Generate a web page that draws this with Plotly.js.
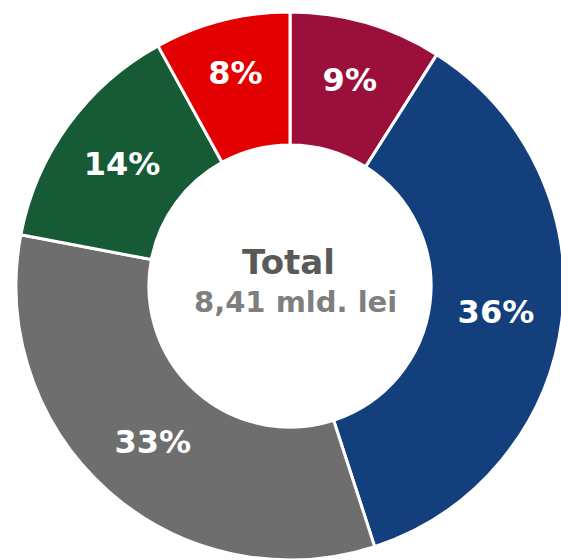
<!DOCTYPE html>
<html>
<head>
<meta charset="utf-8">
<script src="https://cdn.plot.ly/plotly-3.0.1.min.js"></script>
<style>
html,body{margin:0;padding:0;overflow:hidden;background:#fff;}
#chart{width:580px;height:560px;}
</style>
</head>
<body>
<div id="chart"></div>
<script>
const categories = ["A", "B", "C", "D", "E"];
const values = [9, 36, 33, 14, 8];
const textLabels = ["9%", "36%", "33%", "14%", "8%"];
const colors = ["#9B0F3B", "#13407D", "#6E6E6E", "#175B36", "#E30000"];
const centerTitle = "Total";
const centerSub = "8,41 mld. lei";

const W = 580, H = 560;
const trace = {
  type: "pie",
  labels: categories,
  values: values,
  text: textLabels,
  textinfo: "text",
  textposition: "inside",
  insidetextorientation: "horizontal",
  sort: false,
  direction: "clockwise",
  rotation: 0,
  hole: 0.515,
  marker: {colors: colors, line: {color: "#ffffff", width: 3}},
  insidetextfont: {family: "DejaVu Sans", size: 32, color: "#ffffff", weight: "bold"},
  domain: {x: [16 / W, 564 / W], y: [0, 548 / H]},
  showlegend: false,
  hoverinfo: "none"
};
const layout = {
  width: W, height: H,
  margin: {l: 0, r: 0, t: 0, b: 0},
  paper_bgcolor: "#ffffff",
  showlegend: false,
  annotations: [
    {text: "<b>" + centerTitle + "</b>", x: 288 / W, y: 1 - 262 / H, xref: "paper", yref: "paper",
     showarrow: false, font: {family: "DejaVu Sans", size: 34, color: "#595959"}},
    {text: "<b>" + centerSub + "</b>", x: 295 / W, y: 1 - 302 / H, xref: "paper", yref: "paper",
     showarrow: false, font: {family: "DejaVu Sans", size: 29, color: "#7F7F7F"}}
  ]
};
Plotly.newPlot("chart", [trace], layout, {displayModeBar: false, staticPlot: true});
</script>
</body>
</html>
